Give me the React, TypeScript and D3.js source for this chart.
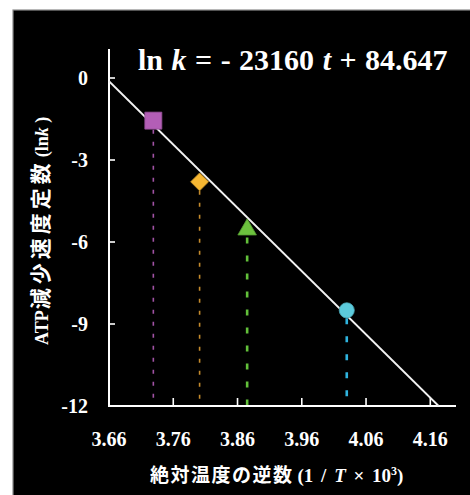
import React from "react";
import * as d3 from "d3";

// measured points: inverse absolute temperature (1/T x 10^3) vs ln k
const invT = [3.729, 3.801, 3.875, 4.03];
const lnK = [-1.56, -3.8, -5.51, -8.5];
const markerKinds = ["square", "diamond", "triangle", "circle"];
const markerFill = ["#b35eb6", "#f6b732", "#6cc23e", "#5ccbdc"];
const dropColor = ["#a052a4", "#c48a2c", "#62c03a", "#2fb4df"];

const xTicks = [3.66, 3.76, 3.86, 3.96, 4.06, 4.16];
const yTicks = [0, -3, -6, -9, -12];

// regression: ln k = -23160 t + 84.647  (t = 1/T)
const slope = -23.16;
const intercept = 84.647;

const serif = "'Liberation Serif', 'Times New Roman', 'Noto Sans CJK JP', serif";
const cjk = "'Noto Sans CJK JP', serif";

export default function App() {
  const x = d3.scaleLinear().domain([3.66, 4.2]).range([109, 456]);
  const y = d3.scaleLinear().domain([-12, 0]).range([406, 78]);
  const yTop = y(1.06);

  const xEnd = (-12 - intercept) / slope;
  const fitLine = d3
    .line<number>()
    .x((d) => x(d))
    .y((d) => y(slope * d + intercept))([3.66, xEnd]);

  const markerPath = (kind: string) => {
    if (kind === "square") return d3.symbol(d3.symbolSquare, 290)();
    if (kind === "triangle") return d3.symbol(d3.symbolTriangle, 150)();
    if (kind === "circle") return d3.symbol(d3.symbolCircle, 180)();
    return d3.symbol(d3.symbolSquare, 160)();
  };
  const markerBottom = [9, 9, 9, 8];

  return (
    <svg
      width={470}
      height={495}
      style={{ position: "absolute", left: 0, top: 0 }}
      fontFamily={serif}
    >
      <rect x={0} y={0} width={470} height={495} fill="#fff" />
      <rect x={13} y={10} width={460} height={490} fill="#000" stroke="#8a8a8a" strokeWidth={1.2} />

      {/* title */}
      <text x={138} y={70} fill="#fff" fontSize={30} fontWeight="bold" wordSpacing={1}>
        ln <tspan fontStyle="italic">k</tspan> = - 23160 <tspan fontStyle="italic">t</tspan> + 84.647
      </text>

      {/* drop lines */}
      {invT.map((v, i) => (
        <line
          key={"d" + i}
          x1={x(v)}
          x2={x(v)}
          y1={y(lnK[i]) + markerBottom[i]}
          y2={y(-12)}
          stroke={dropColor[i]}
          strokeWidth={i < 2 ? 1.6 : 2.6}
          strokeDasharray={i < 2 ? "4 8" : "6 12"}
        />
      ))}

      {/* axes */}
      <path
        d={`M${x(3.66)},${yTop}V${y(-12)}H${x(4.2)}`}
        fill="none"
        stroke="#fff"
        strokeWidth={2}
      />
      {yTicks.map((t) => (
        <g key={"yt" + t}>
          <line x1={x(3.66)} x2={x(3.66) + 6} y1={y(t)} y2={y(t)} stroke="#fff" strokeWidth={1.6} />
          <text
            x={88}
            y={y(t)}
            dy="0.35em"
            textAnchor="end"
            fill="#fff"
            fontSize={20}
            fontWeight="bold"
          >
            {t}
          </text>
        </g>
      ))}
      {xTicks.map((t) => (
        <g key={"xt" + t}>
          <line x1={x(t)} x2={x(t)} y1={y(-12)} y2={y(-12) - 8} stroke="#fff" strokeWidth={1.6} />
          <text
            x={x(t)}
            y={446}
            textAnchor="middle"
            fill="#fff"
            fontSize={20}
            fontWeight="bold"
          >
            {t.toFixed(2)}
          </text>
        </g>
      ))}

      {/* fitted line */}
      <path d={fitLine ?? ""} fill="none" stroke="#f2f2f2" strokeWidth={1.8} />

      {/* markers */}
      {invT.map((v, i) => {
        const kind = markerKinds[i];
        const rot = kind === "diamond" ? 45 : 0;
        const dy = kind === "triangle" ? 1 : 0;
        return (
          <path
            key={"m" + i}
            d={markerPath(kind) ?? ""}
            transform={`translate(${x(v)},${y(lnK[i]) + dy}) rotate(${rot})`}
            fill={markerFill[i]}
            stroke={d3.color(markerFill[i])!.darker(0.6).toString()}
            strokeWidth={0.8}
          />
        );
      })}

      {/* axis titles */}
      <text
        transform="translate(48,345) rotate(-90)"
        textAnchor="start"
        fill="#fff"
        fontSize={18}
        fontWeight="bold"
      >
        ATP
        <tspan fontFamily={cjk} fontSize={21} letterSpacing={4} dx={1}>
          減少速度定数
        </tspan>
        <tspan dx={2}>(ln</tspan>
        <tspan fontStyle="italic">k</tspan> )
      </text>
      <text x={150} y={482} fill="#fff" fontSize={19} fontWeight="bold" wordSpacing={3}>
        <tspan fontFamily={cjk} letterSpacing={1.5}>
          絶対温度の逆数
        </tspan>
        <tspan dx={4}>(1 / </tspan>
        <tspan fontStyle="italic">T</tspan> × 10
        <tspan dy={-7} fontSize={12}>3</tspan>
        <tspan dy={7}>)</tspan>
      </text>
    </svg>
  );
}
